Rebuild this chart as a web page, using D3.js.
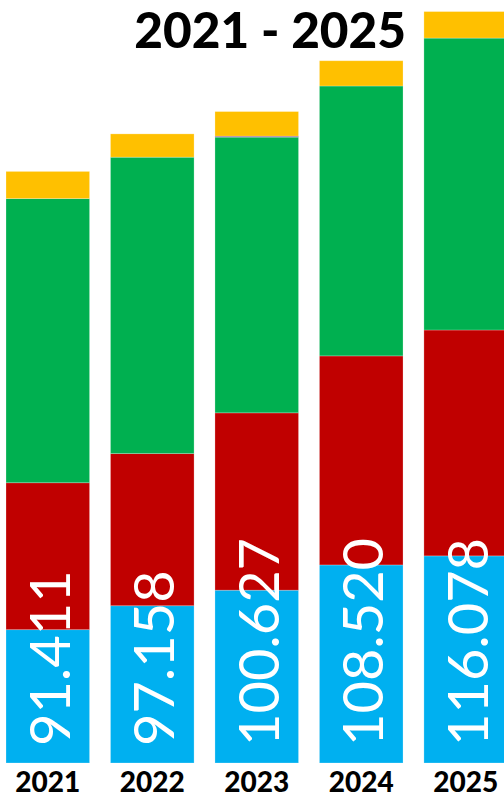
<!DOCTYPE html>
<html>
<head>
<meta charset="utf-8">
<script src="https://cdn.jsdelivr.net/npm/d3@7"></script>
<style>
html,body{margin:0;padding:0;background:#fff;overflow:hidden;}
svg{display:block;}
</style>
</head>
<body>
<svg id="chart" width="504" height="794"></svg>
<script>
const years = ["2021", "2022", "2023", "2024", "2025"];
const totalLabels = ["91.411", "97.158", "100.627", "108.520", "116.078"];
const totals = [91.411, 97.158, 100.627, 108.520, 116.078];
const blueVals = [20.6, 24.3, 26.7, 30.6, 32.0];
const redVals = [22.7, 23.5, 27.4, 32.3, 34.9];
const greenVals = [43.9, 45.8, 42.6, 41.7, 45.1];
const purpleVals = [0, 0, 0.15, 0, 0];
const yellowVals = [4.2, 3.6, 3.8, 3.9, 4.1];
const seriesNames = ["blue", "red", "green", "purple", "yellow"];
const seriesColors = ["#00B0F0", "#C00000", "#00B050", "#7030A0", "#FFC000"];
const title = "2021 - 2025";

const seriesVals = [blueVals, redVals, greenVals, purpleVals, yellowVals];
const rows = years.map((y, i) => {
  const r = {year: y};
  seriesNames.forEach((s, j) => r[s] = seriesVals[j][i]);
  return r;
});

const svg = d3.select("#chart");
const x = d3.scaleBand().domain(years).range([6, 507.5]).paddingInner(0.2).paddingOuter(0);
const y = d3.scaleLinear().domain([0, 116.078]).range([763, 11.7]);
const color = d3.scaleOrdinal().domain(seriesNames).range(seriesColors);

const stacked = d3.stack().keys(seriesNames)(rows);

svg.append("g").selectAll("g").data(stacked).join("g")
  .attr("fill", d => color(d.key))
  .selectAll("rect").data(d => d.filter(p => p[1] - p[0] > 0)).join("rect")
  .attr("x", d => x(d.data.year))
  .attr("width", x.bandwidth())
  .attr("y", d => y(d[1]))
  .attr("height", d => y(d[0]) - y(d[1]))
  .attr("stroke", "rgba(255,255,255,0.3)")
  .attr("stroke-width", 0.8);

// rotated total labels
svg.append("g").selectAll("text").data(years).join("text")
  .attr("transform", (d) => `translate(${x(d) + x.bandwidth() / 2 + 22},${y(0) - 17}) rotate(-90)`)
  .attr("text-anchor", "start")
  .attr("fill", "#fff")
  .attr("font-family", "Lato, 'Open Sans', sans-serif")
  .attr("font-size", 56)
  .text((d, i) => totalLabels[i]);

// year labels
svg.append("g").selectAll("text").data(years).join("text")
  .attr("x", d => x(d) + x.bandwidth() / 2)
  .attr("y", 792)
  .attr("text-anchor", "middle")
  .attr("fill", "#000")
  .attr("font-family", "Lato, sans-serif")
  .attr("font-weight", 900)
  .attr("font-size", 28)
  .text(d => d);

// title
svg.append("text")
  .attr("x", 406)
  .attr("y", 48)
  .attr("text-anchor", "end")
  .attr("fill", "#000")
  .attr("font-family", "Lato, sans-serif")
  .attr("font-weight", 900)
  .attr("font-size", 49.5)
  .text(title);
</script>
</body>
</html>
